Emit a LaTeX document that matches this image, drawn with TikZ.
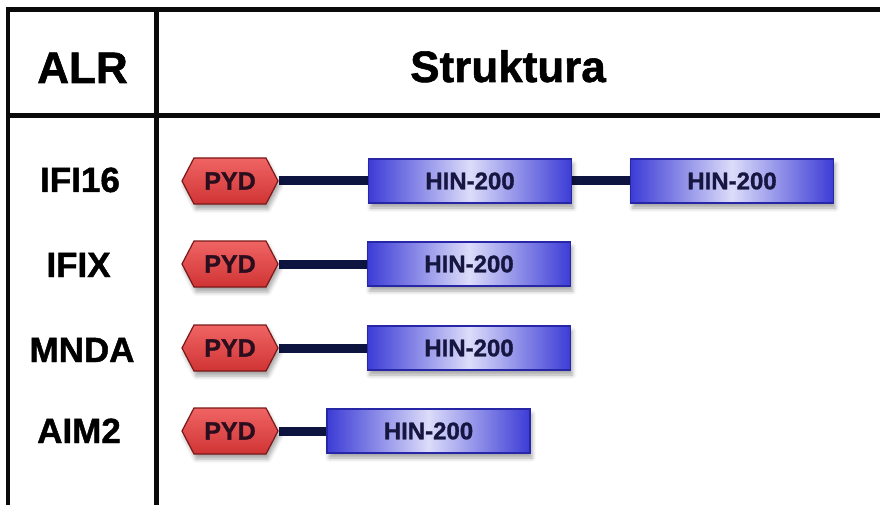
\documentclass[tikz,border=0pt]{standalone}
\usepackage{fontspec}
\setmainfont{Liberation Sans}[BoldFeatures={FakeBold=1.3}]
\usetikzlibrary{shapes.misc,shapes.symbols,shadows.blur,backgrounds}
\definecolor{gridline}{HTML}{0A0A0A}
\definecolor{linkcol}{HTML}{0E1440}
\definecolor{pydtop}{HTML}{F06464}
\definecolor{pydbot}{HTML}{D03434}
\definecolor{pydedge}{HTML}{7A1818}
\definecolor{pydtext}{HTML}{2A0E1E}
\definecolor{hinside}{HTML}{3C3CD6}
\definecolor{hinmid}{HTML}{DCDCFA}
\definecolor{hinedge}{HTML}{2626A6}
\definecolor{hintext}{HTML}{161640}
\begin{document}
\begin{tikzpicture}[x=1pt,y=-1pt,
  grid/.style={line width=4.5pt, draw=gridline, line join=miter},
  head/.style={font=\bfseries\fontsize{44}{50}\selectfont, anchor=base, inner sep=0pt},
  alr/.style={font=\bfseries\fontsize{35}{40}\selectfont, anchor=base, inner sep=0pt},
  softshadow/.style={blur shadow={shadow xshift=2pt, shadow yshift=-5pt, shadow blur radius=4pt, shadow opacity=35}},
  pydbox/.style={signal, signal to=west and east, signal pointer angle=125,
    minimum width=96pt, minimum height=46pt, inner sep=0pt,
    draw=pydedge, line width=1.2pt, top color=pydtop, bottom color=pydbot,
    text=pydtext, font=\bfseries\fontsize{25}{28}\selectfont, softshadow},
  hinbox/.style={rectangle, minimum width=203pt, minimum height=44pt, inner sep=0pt,
    draw=hinedge, line width=1.2pt, left color=hinside, right color=hinside, middle color=hinmid,
    text=hintext, font=\bfseries\fontsize{24}{27}\selectfont, softshadow},
  link/.style={line width=9pt, draw=linkcol}]
\useasboundingbox (0,0) rectangle (880,505);
% table lines
\coordinate (tr) at (880,9.5);
\coordinate (tl) at (8,9.5);
\coordinate (bl) at (8,505);
\coordinate (dt) at (156.5,9.5);
\coordinate (db) at (156.5,505);
\coordinate (hl) at (8,115.5);
\coordinate (hr) at (880,115.5);
\draw[grid] (tr) -- (tl) -- (bl);
\draw[grid] (dt) -- (db);
\draw[grid] (hl) -- (hr);
% headers
\node[head] (halr) at (82.5,83) {ALR};
\node[head] (hstr) at (508,82) {Struktura};
% row labels
\node[alr] (l1) at (80,192) {IFI16};
\node[alr] (l2) at (78.5,277) {IFIX};
\node[alr] (l3) at (82,362) {MNDA};
\node[alr] (l4) at (79,443) {AIM2};
% domains
\node[pydbox] (p1) at (230,181) {PYD};
\node[hinbox] (h1a) at (470,181) {HIN-200};
\node[hinbox] (h1b) at (732,181) {HIN-200};
\node[pydbox] (p2) at (230,264) {PYD};
\node[hinbox] (h2) at (469,264) {HIN-200};
\node[pydbox] (p3) at (230,348) {PYD};
\node[hinbox] (h3) at (469,348) {HIN-200};
\node[pydbox] (p4) at (230,431) {PYD};
\node[hinbox] (h4) at (428.5,431) {HIN-200};
\begin{pgfonlayer}{background}
\draw[link] (p1.east) -- (h1a.west);
\draw[link] (h1a.east) -- (h1b.west);
\draw[link] (p2.east) -- (h2.west);
\draw[link] (p3.east) -- (h3.west);
\draw[link] (p4.east) -- (h4.west);
\end{pgfonlayer}
\end{tikzpicture}
\end{document}
